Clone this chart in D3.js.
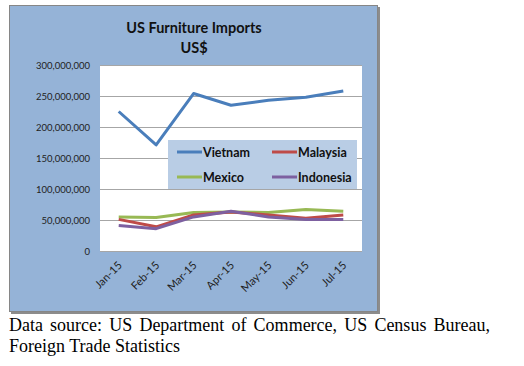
<!DOCTYPE html>
<html>
<head>
<meta charset="utf-8">
<script src="https://cdn.jsdelivr.net/npm/d3@7"></script>
<style>
  body { margin: 0; background: #fff; }
  #caption {
    position: absolute; left: 9px; top: 315px; width: 481px;
    font-family: "Liberation Serif", "DejaVu Serif", serif; font-size: 18px;
    line-height: 21px; text-align: justify; color: #000;
  }
</style>
</head>
<body>
<svg id="chart" width="524" height="318"></svg>
<div id="caption">Data source: US Department of Commerce, US Census Bureau, Foreign Trade Statistics</div>
<script>
var months = ["Jan-15", "Feb-15", "Mar-15", "Apr-15", "May-15", "Jun-15", "Jul-15"];
var vietnam = [225e6, 171e6, 254e6, 235e6, 243e6, 248e6, 258e6];
var malaysia = [51e6, 39e6, 58e6, 63e6, 58e6, 53e6, 58e6];
var mexico = [55e6, 54e6, 62e6, 63e6, 62e6, 67e6, 64e6];
var indonesia = [41e6, 36e6, 55e6, 64e6, 55e6, 51e6, 51e6];
var yTicks = [0, 50e6, 100e6, 150e6, 200e6, 250e6, 300e6];

var series = [
  {name: "Vietnam", values: vietnam, color: "#4a7ebb"},
  {name: "Malaysia", values: malaysia, color: "#be4b48"},
  {name: "Mexico", values: mexico, color: "#98b954"},
  {name: "Indonesia", values: indonesia, color: "#7d60a0"}
];
// draw order so purple ends up on top like excel
var drawOrder = [series[0], series[2], series[1], series[3]];

var svg = d3.select("#chart");

var plot = {left: 100, top: 65, right: 362, bottom: 251};

// outer frame with small shadow
svg.append("rect")
  .attr("x", 11).attr("y", 7)
  .attr("width", 369).attr("height", 307)
  .attr("fill", "#8c8c8c");
svg.append("rect")
  .attr("x", 9.5).attr("y", 5.5)
  .attr("width", 368).attr("height", 306)
  .attr("fill", "#95b3d7")
  .attr("stroke", "#868686")
  .attr("stroke-width", 1);

svg.append("rect")
  .attr("x", plot.left).attr("y", plot.top)
  .attr("width", plot.right - plot.left).attr("height", plot.bottom - plot.top)
  .attr("fill", "#fff");

var x = d3.scaleBand()
  .domain(months)
  .range([plot.left, plot.right]);

var y = d3.scaleLinear()
  .domain([0, 300e6])
  .range([plot.bottom, plot.top]);

// gridlines
svg.append("g")
  .selectAll("line")
  .data(yTicks)
  .enter().append("line")
  .attr("x1", plot.left).attr("x2", plot.right)
  .attr("y1", d => Math.round(y(d)) + 0.5)
  .attr("y2", d => Math.round(y(d)) + 0.5)
  .attr("stroke", "#a6a6a6")
  .attr("stroke-width", 1);

var yAxis = d3.axisLeft(y)
  .tickValues(yTicks)
  .tickSize(0)
  .tickPadding(10)
  .tickFormat(d3.format(","));

var gy = svg.append("g")
  .attr("transform", "translate(" + plot.left + ",0)")
  .call(yAxis);
gy.select(".domain").remove();
gy.selectAll("text")
  .attr("font-family", "Lato, 'Open Sans', sans-serif")
  .attr("font-size", 9.5)
  .attr("fill", "#222");

var xAxis = d3.axisBottom(x).tickSize(0).tickPadding(0);
var gx = svg.append("g")
  .attr("transform", "translate(0," + plot.bottom + ")")
  .call(xAxis);
gx.select(".domain").remove();
gx.selectAll("text")
  .attr("font-family", "Lato, 'Open Sans', sans-serif")
  .attr("font-size", 11)
  .attr("fill", "#222")
  .attr("text-anchor", "end")
  .attr("dy", 0)
  .attr("y", 0)
  .attr("transform", "translate(4,15) rotate(-45)");

var line = d3.line()
  .x((d, i) => x(months[i]) + x.bandwidth() / 2)
  .y(d => y(d));

svg.append("g")
  .selectAll("path")
  .data(drawOrder)
  .enter().append("path")
  .attr("d", d => line(d.values))
  .attr("fill", "none")
  .attr("stroke", d => d.color)
  .attr("stroke-width", 3)
  .attr("stroke-linejoin", "round");

// title
var title = svg.append("g")
  .attr("font-family", "Lato, 'Open Sans', sans-serif")
  .attr("font-weight", "bold")
  .attr("font-size", 14.5)
  .attr("fill", "#111")
  .attr("text-anchor", "middle");
title.append("text").attr("x", 194).attr("y", 33).text("US Furniture Imports");
title.append("text").attr("x", 194).attr("y", 53).text("US$");

// legend
var legend = svg.append("g").attr("transform", "translate(168,140)");
legend.append("rect")
  .attr("width", 189).attr("height", 49)
  .attr("fill", "#b9cde5");

legend.selectAll("g.item")
  .data(series)
  .enter().append("g")
  .attr("class", "item")
  .each(function(d, i) {
    var g = d3.select(this);
    var col = i % 2, row = Math.floor(i / 2);
    var lx = 9 + col * 95, ly = 12 + row * 25;
    g.append("line")
      .attr("x1", lx).attr("x2", lx + 25)
      .attr("y1", ly).attr("y2", ly)
      .attr("stroke", d.color)
      .attr("stroke-width", 3);
    g.append("text")
      .attr("x", lx + 26).attr("y", ly + 4.5)
      .attr("font-family", "Lato, 'Open Sans', sans-serif")
      .attr("font-weight", "bold")
      .attr("font-size", 12.5)
      .attr("fill", "#111")
      .text(d.name);
  });
</script>
</body>
</html>
